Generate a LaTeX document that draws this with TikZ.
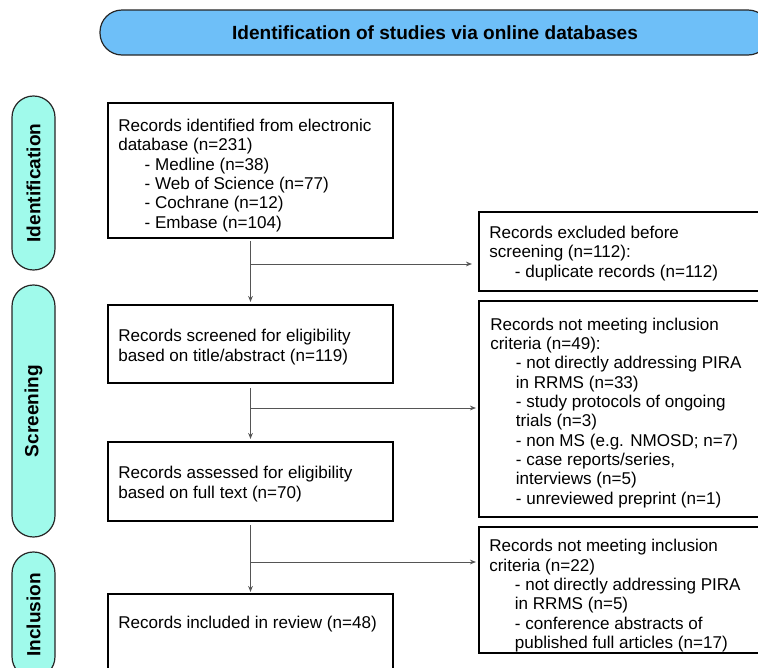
\documentclass[tikz,border=0pt]{standalone}
\usepackage{fontspec}
\setmainfont{Liberation Sans}
\usetikzlibrary{arrows.meta,calc}
\definecolor{bannerblue}{RGB}{110,191,248}
\definecolor{pillaqua}{RGB}{160,250,235}
\definecolor{arrgray}{RGB}{85,85,85}
\newcommand{\ind}{\hspace*{19.8pt}}
\newcommand{\indr}{\hspace*{19.2pt}}
\begin{document}
\begin{tikzpicture}[x=0.75pt,y=-0.75pt,
  banner/.style={draw=black!85,line width=0.9pt,fill=bannerblue,rounded corners=16.5pt,
    minimum width=502.5pt,minimum height=33.75pt,inner sep=0pt,
    font=\fontsize{14.3}{16}\selectfont\bfseries},
  pill/.style={draw=black!85,line width=0.9pt,fill=pillaqua,rounded corners=16pt,
    rotate=90,minimum height=32.25pt,inner sep=0pt,
    font=\fontsize{14.3}{16}\selectfont\bfseries},
  box/.style={draw=black,line width=1.5pt,inner sep=0pt,outer sep=0pt},
  txt/.style={anchor=base west,align=left,inner sep=0pt,
    font=\fontsize{12.8}{14.5}\selectfont},
  flow/.style={draw=arrgray,line width=0.75pt,-{Stealth[length=4.5pt,width=3.5pt]}}]
\useasboundingbox (0,0) rectangle (758,668);
\clip (0,0) rectangle (758,668);
% banner
\node[banner] (ban) at (435,32.5) {Identification of studies via online databases};
% phase pills
\node[pill,minimum width=130.5pt] (pid) at (33.5,183) {Identification};
\node[pill,minimum width=189pt] (psc) at (33.5,411) {Screening};
\node[pill,minimum width=94.5pt] (pin) at (33.5,615) {Inclusion};
% main boxes
\node[box,minimum width=213.75pt,minimum height=101.25pt] (b1) at (250.5,170.5) {};
\node[box,minimum width=213.75pt,minimum height=58.5pt] (b2) at (250.5,344) {};
\node[box,minimum width=213.75pt,minimum height=59.25pt] (b3) at (250.5,481.5) {};
\node[box,minimum width=213.75pt,minimum height=79.5pt] (b4) at (250.5,647) {};
% right boxes
\node[box,minimum width=218.25pt,minimum height=59.25pt] (r1) at (624.5,251.5) {};
\node[box,minimum width=218.25pt,minimum height=162pt] (r2) at (624.5,409) {};
\node[box,minimum width=218.25pt,minimum height=94.5pt] (r3) at (624.5,590) {};
% texts (anchored at the baseline of their last line)
\node[txt] (t1) at (118,228.2) {Records identified from electronic\\database (n=231)\\\ind- Medline (n=38)\\\ind- Web of Science (n=77)\\\ind- Cochrane (n=12)\\\ind- Embase (n=104)};
\node[txt] (t2) at (118,361) {Records screened for eligibility\\based on title/abstract (n=119)};
\node[txt] (t3) at (118,498.3) {Records assessed for eligibility\\based on full text (n=70)};
\node[txt] (t4) at (118,628) {Records included in review (n=48)};
\node[txt] (s1) at (489,277) {Records excluded before\\screening (n=112):\\\indr- duplicate records (n=112)};
\node[txt] (s2) at (490,504) {Records not meeting inclusion\\criteria (n=49):\\\indr- not directly addressing PIRA\\\indr in RRMS (n=33)\\\indr- study protocols of ongoing\\\indr trials (n=3)\\\indr- non MS (e.g. NMOSD; n=7)\\\indr- case reports/series,\\\indr interviews (n=5)\\\indr- unreviewed preprint (n=1)};
\node[txt] (s3) at (489,648.5) {Records not meeting inclusion\\criteria (n=22)\\\indr- not directly addressing PIRA\\\indr in RRMS (n=5)\\\indr- conference abstracts of\\\indr published full articles (n=17)};
% branch points
\coordinate (j1) at (250.5,264);
\coordinate (j2) at (250.5,408);
\coordinate (j3) at (250.5,562);
% connectors
\draw[flow,shorten <=2.25pt,shorten >=2.25pt] (b1.south) -- (b2.north);
\draw[flow,shorten <=3.75pt,shorten >=2.25pt] (b2.south) -- (b3.north);
\draw[flow,shorten <=3pt,shorten >=1.5pt] (b3.south) -- (b4.north);
\draw[flow,shorten >=5.25pt] (j1) -- (j1 -| r1.west);
\draw[flow,shorten >=2.25pt] (j2) -- (j2 -| r2.west);
\draw[flow,shorten >=2.25pt] (j3) -- (j3 -| r3.west);
\end{tikzpicture}
\end{document}
